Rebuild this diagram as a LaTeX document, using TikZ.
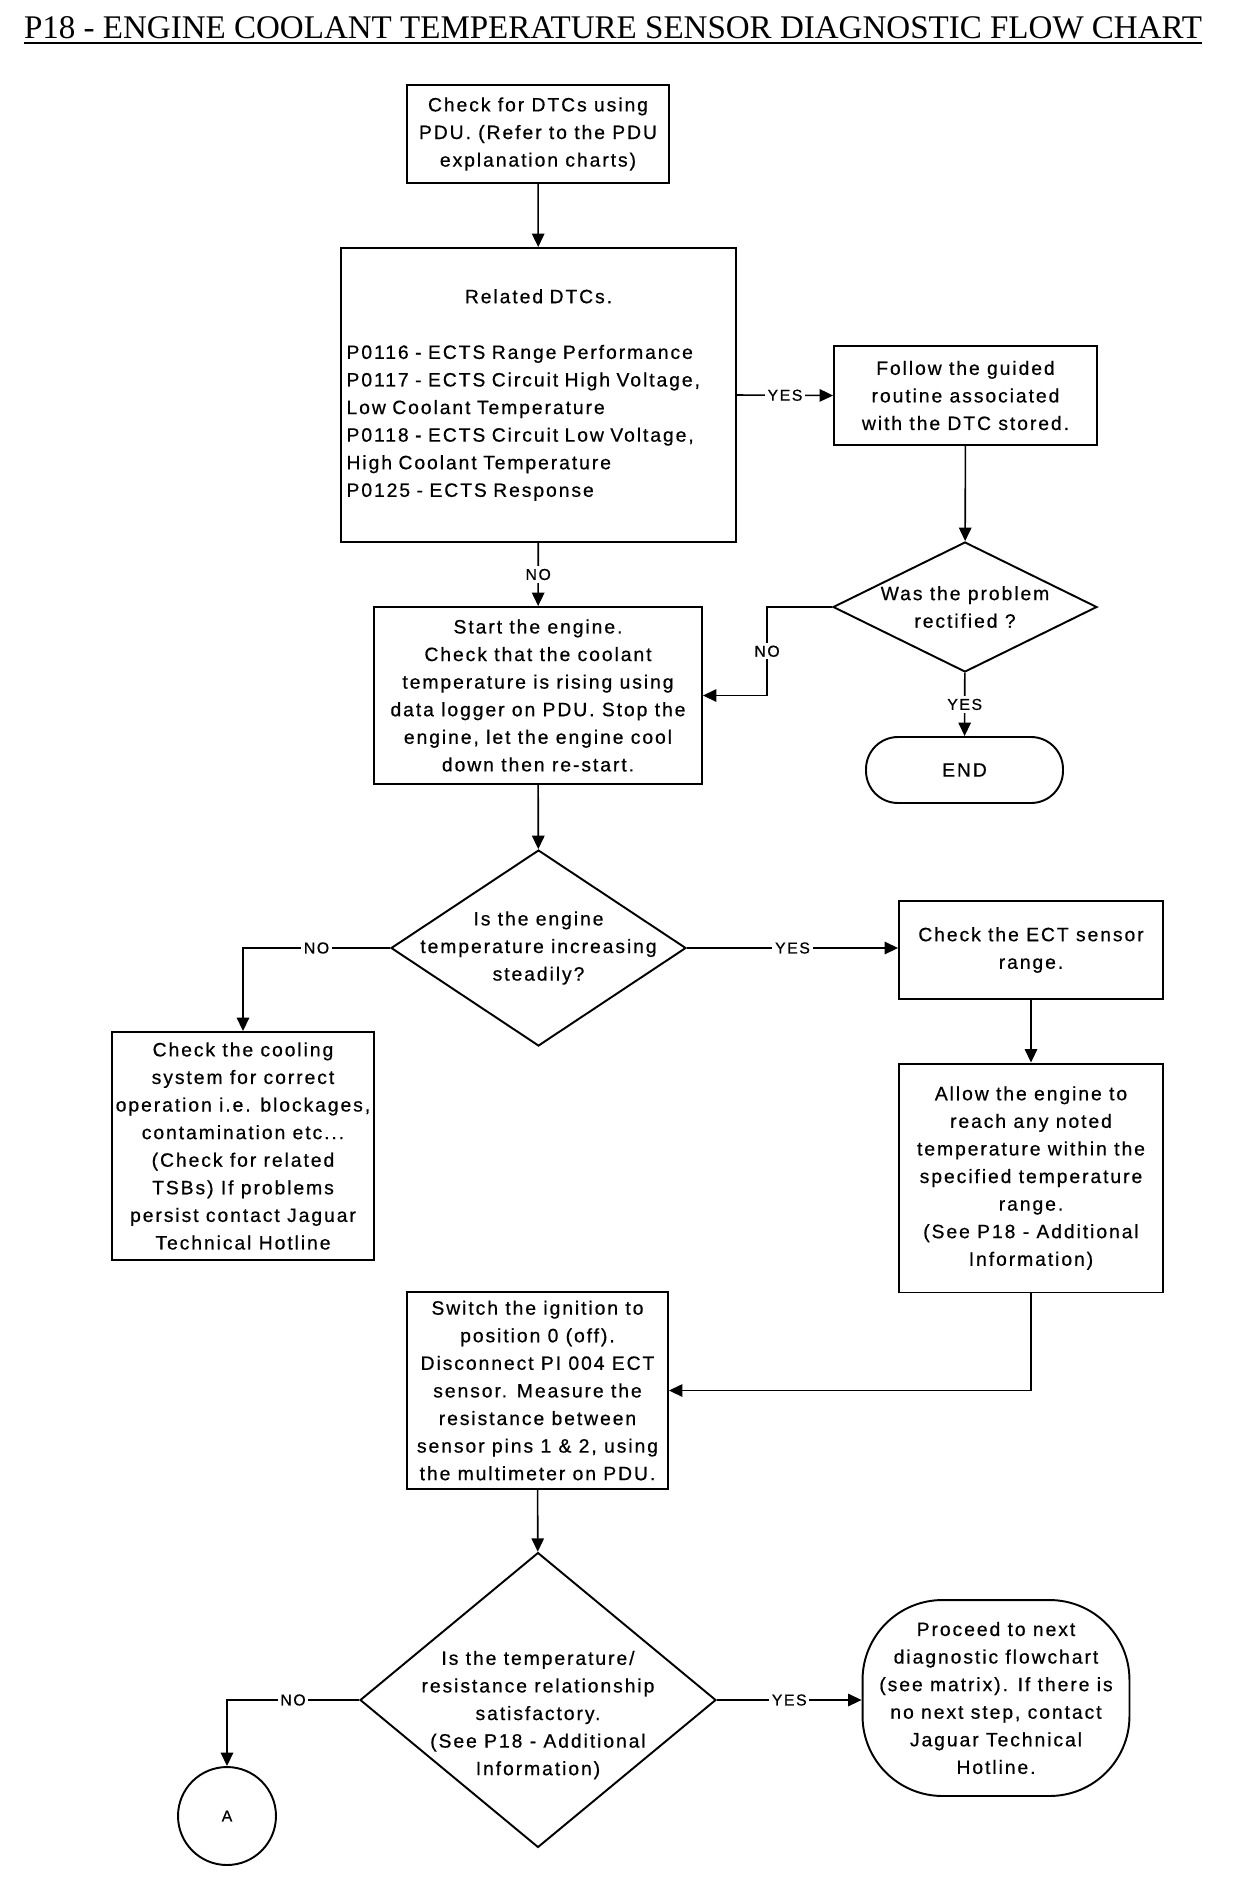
\documentclass[tikz,border=0pt]{standalone}
\usepackage{fontspec}
\setmainfont{Liberation Sans}
\newfontfamily\chartfont[LetterSpace=10, FakeBold=0.6, Ligatures={TeX,NoCommon}]{Liberation Sans}
\newfontfamily\titlefont{Liberation Serif}
\usetikzlibrary{arrows.meta,positioning,shapes.geometric,calc}

\begin{document}
\begin{tikzpicture}[x=0.02cm, y=-0.02cm,
    txt/.style={font=\chartfont\fontsize{11pt}{15.7pt}\selectfont},
    blk/.style={rectangle, draw, line width=1.1pt, txt, align=center,
                inner sep=1pt},
    dec/.style={diamond, draw, line width=1.1pt, inner sep=0pt},
    lbl/.style={font=\chartfont\fontsize{9pt}{10pt}\selectfont, fill=white,
                inner sep=1.5pt},
    arr/.style={-{Triangle[length=0.27cm, width=0.25cm]}, line width=0.9pt}]
\useasboundingbox (0,0) rectangle (1248,1880);

\node[font=\titlefont\fontsize{18.8pt}{22pt}\selectfont, inner sep=0pt,
      anchor=base] (title) at (613,38)
    {P18 - ENGINE COOLANT TEMPERATURE SENSOR DIAGNOSTIC FLOW CHART};
\draw[line width=1.3pt] ([yshift=-0.1cm]title.base west)
    -- ([yshift=-0.1cm]title.base east);

\node[blk, minimum width=5.24cm, minimum height=1.96cm] (chk) at (538,134)
    {Check for DTCs using\\PDU. (Refer to the PDU\\explanation charts)};
\node[blk, minimum width=7.9cm, minimum height=5.88cm, text width=7.68cm,
      align=left, inner xsep=0.11cm] (rel) at (538.5,395)
    {\makebox[\linewidth]{Related DTCs.}\\[16pt]
     P0116 - ECTS Range Performance\\
     P0117 - ECTS Circuit High Voltage,\\
     Low Coolant Temperature\\
     P0118 - ECTS Circuit Low Voltage,\\
     High Coolant Temperature\\
     P0125 - ECTS Response};
\node[blk, minimum width=5.26cm, minimum height=1.98cm] (follow) at (965.5,395.5)
    {Follow the guided\\routine associated\\with the DTC stored.};
\node[dec, minimum width=5.28cm, minimum height=2.6cm,
      label={[txt, align=center]center:{Was the problem\\rectified ?}}]
    (rect) at (965,607) {};
\node[blk, rounded corners=0.64cm, minimum width=3.94cm, minimum height=1.32cm]
    (end) at (964.5,770) {END};
\node[blk, minimum width=6.56cm, minimum height=3.54cm] (start) at (538,695.5)
    {Start the engine.\\Check that the coolant\\temperature is rising using\\
     data logger on PDU. Stop the\\engine, let the engine cool\\
     down then re-start.};
\node[dec, minimum width=5.9cm, minimum height=3.92cm,
      label={[txt, align=center]center:{Is the engine\\temperature increasing\\steadily?}}]
    (steady) at (538.5,948) {};
\node[blk, minimum width=5.24cm, minimum height=4.56cm] (cool) at (243,1146)
    {Check the cooling\\system for correct\\operation i.e. blockages,\\
     contamination etc...\\(Check for related\\TSBs) If problems\\
     persist contact Jaguar\\Technical Hotline};
\node[blk, minimum width=5.28cm, minimum height=1.96cm] (ect) at (1031,950)
    {Check the ECT sensor\\range.};
\node[blk, minimum width=5.28cm, minimum height=4.58cm] (allow) at (1031,1178)
    {Allow the engine to\\reach any noted\\temperature within the\\
     specified temperature\\range.\\(See P18 - Additional\\Information)};
\node[blk, minimum width=5.22cm, minimum height=3.94cm] (switch) at (537.5,1390.5)
    {Switch the ignition to\\position 0 (off).\\Disconnect PI 004 ECT\\
     sensor. Measure the\\resistance between\\sensor pins 1 \& 2, using\\
     the multimeter on PDU.};
\node[dec, minimum width=7.12cm, minimum height=5.9cm,
      label={[txt, align=center, yshift=-0.3cm]center:{Is the temperature/\\
      resistance relationship\\satisfactory.\\(See P18 - Additional\\Information)}}]
    (tres) at (538,1700) {};
\node[circle, draw, line width=1.1pt, minimum size=1.96cm,
      font=\chartfont\fontsize{9pt}{10pt}\selectfont] (ca) at (227,1816) {A};
\node[blk, rounded corners=1.6cm, minimum width=5.34cm, minimum height=3.92cm]
    (next) at (996,1698)
    {Proceed to next\\diagnostic flowchart\\(see matrix). If there is\\
     no next step, contact\\Jaguar Technical\\Hotline.};

\draw[arr] (chk) -- (rel);
\draw[arr] (rel.east) -- node[lbl]{YES} (follow.west);
\draw[arr] (follow) -- (rect);
\draw[arr] (rect.west) -- ++(-65,0) |- node[lbl, pos=0.25]{NO} (start.east);
\draw[arr] (rect) -- node[lbl]{YES} (end);
\draw[arr] (rel) -- node[lbl]{NO} (start);
\draw[arr] (start) -- (steady);
\draw[arr] (steady.west) -| node[lbl, pos=0.25]{NO} (cool.north);
\draw[arr] (steady.east) -- node[lbl]{YES} (steady.east -| ect.west);
\draw[arr] (ect) -- (allow);
\draw[arr] (allow.south) |- (switch.east);
\draw[arr] (switch) -- (tres);
\draw[arr] (tres.west) -| node[lbl, pos=0.25]{NO} (ca.north);
\draw[arr] (tres.east) -- node[lbl]{YES} (tres.east -| next.west);
\end{tikzpicture}
\end{document}
